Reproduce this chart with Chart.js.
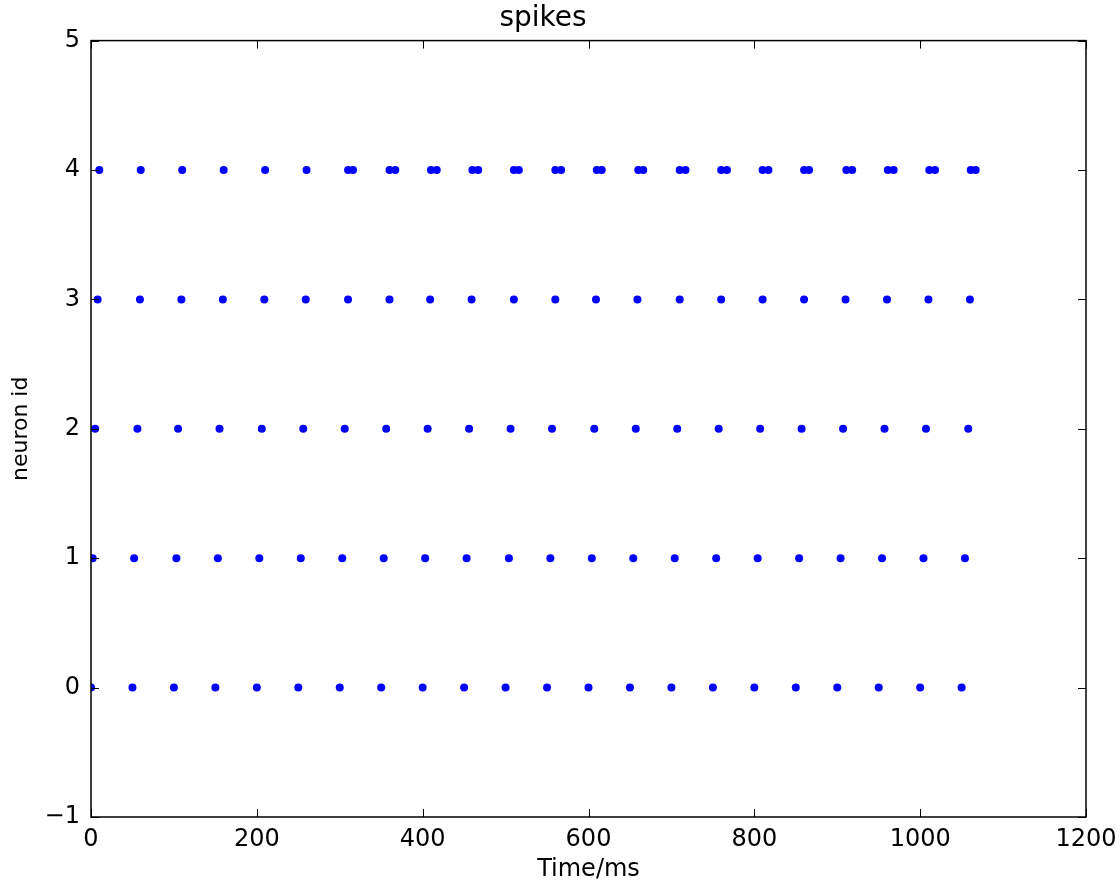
<!DOCTYPE html>
<html lang="en">
<head>
  <meta charset="UTF-8">
  <title>spikes</title>
  <script src="https://cdn.jsdelivr.net/npm/chart.js"></script>
  <style>
    html, body { margin: 0; padding: 0; background: #fff; }
    #wrap { width: 1120px; height: 888px; }
  </style>
</head>
<body>
  <div id="wrap"><canvas id="spikeChart"></canvas></div>

  <script>
    const neuron0 = [0, 50, 100, 150, 200, 250, 300, 350, 400, 450, 500, 550, 600, 650, 700, 750, 800, 850, 900, 950, 1000, 1050];
    const neuron1 = [2, 52, 103, 153, 203, 253, 303, 353, 403, 453, 504, 554, 604, 654, 704, 754, 804, 854, 904, 954, 1004, 1054];
    const neuron2 = [5, 56, 105, 155, 206, 256, 306, 356, 406, 456, 506, 556, 607, 657, 707, 757, 807, 857, 907, 957, 1007, 1058];
    const neuron3 = [8, 59, 109, 159, 209, 259, 310, 360, 409, 459, 510, 560, 609, 659, 710, 760, 810, 860, 910, 960, 1010, 1060];
    const neuron4 = [10, 60, 110, 160, 210, 260, 310, 316, 360, 367, 410, 417, 460, 467, 510, 516, 560, 567,
                     610, 616, 660, 666, 710, 717, 760, 767, 810, 817, 860, 866, 911, 918, 961, 968, 1011, 1018, 1061, 1067];

    const neuronIds = [0, 1, 2, 3, 4];
    const spikeTrains = [neuron0, neuron1, neuron2, neuron3, neuron4];

    const xTicks = [0, 200, 400, 600, 800, 1000, 1200];
    const yTicks = [-1, 0, 1, 2, 3, 4, 5];

    const FONT = 'DejaVu Sans';

    const datasets = spikeTrains.map((times, i) => ({
      label: 'neuron ' + neuronIds[i],
      data: times.map(t => ({ x: t, y: neuronIds[i] })),
      backgroundColor: '#0000ff',
      borderWidth: 0,
      pointRadius: 4,
      pointHoverRadius: 4,
      clip: 0
    }));

    // matplotlib-style frame with inward ticks on all four sides
    const framePlugin = {
      id: 'frame',
      afterDraw(chart) {
        const ctx = chart.ctx;
        const a = chart.chartArea;
        const xs = chart.scales.x, ys = chart.scales.y;
        const len = 8;
        ctx.save();
        ctx.strokeStyle = '#000';
        ctx.lineWidth = 1;
        ctx.beginPath();
        xTicks.forEach(v => {
          const px = Math.round(xs.getPixelForValue(v)) + 0.5;
          ctx.moveTo(px, a.bottom); ctx.lineTo(px, a.bottom - len);
          ctx.moveTo(px, a.top); ctx.lineTo(px, a.top + len);
        });
        yTicks.forEach(v => {
          const py = Math.round(ys.getPixelForValue(v)) + 0.5;
          ctx.moveTo(a.left, py); ctx.lineTo(a.left + len, py);
          ctx.moveTo(a.right, py); ctx.lineTo(a.right - len, py);
        });
        ctx.stroke();
        ctx.lineWidth = 1.5;
        ctx.strokeRect(a.left, a.top, a.right - a.left, a.bottom - a.top);
        ctx.restore();
      }
    };

    new Chart(document.getElementById('spikeChart'), {
      type: 'scatter',
      data: { datasets: datasets },
      options: {
        responsive: true,
        maintainAspectRatio: false,
        animation: false,
        layout: { padding: { left: 0, right: 34, top: 0, bottom: 0 } },
        plugins: {
          legend: { display: false },
          tooltip: { enabled: false },
          title: {
            display: true,
            text: 'spikes',
            color: '#000',
            font: { family: FONT, size: 28, weight: 'normal' },
            padding: { top: 2, bottom: 5 }
          }
        },
        scales: {
          x: {
            type: 'linear',
            min: 0,
            max: 1200,
            afterBuildTicks: s => { s.ticks = xTicks.map(v => ({ value: v })); },
            afterFit: s => { s.height = 71; s.paddingLeft = 0; s.paddingRight = 0; },
            grid: { display: false, drawTicks: false },
            border: { display: false },
            ticks: {
              color: '#000',
              padding: 8,
              maxRotation: 0,
              font: { family: FONT, size: 24 },
              callback: v => String(v)
            },
            title: {
              display: true,
              text: 'Time/ms',
              color: '#000',
              font: { family: FONT, size: 24 },
              padding: { top: 0, bottom: 4 }
            }
          },
          y: {
            type: 'linear',
            min: -1,
            max: 5,
            afterBuildTicks: s => { s.ticks = yTicks.map(v => ({ value: v })); },
            afterFit: s => { s.width = 91; },
            grid: { display: false, drawTicks: false },
            border: { display: false },
            ticks: {
              color: '#000',
              padding: 11,
              font: { family: FONT, size: 24 },
              callback: v => String(v).replace('-', '\u2212')
            },
            title: {
              display: true,
              text: 'neuron id',
              color: '#000',
              font: { family: FONT, size: 22 },
              padding: { top: 8, bottom: 0 }
            }
          }
        }
      },
      plugins: [framePlugin]
    });
  </script>
</body>
</html>
